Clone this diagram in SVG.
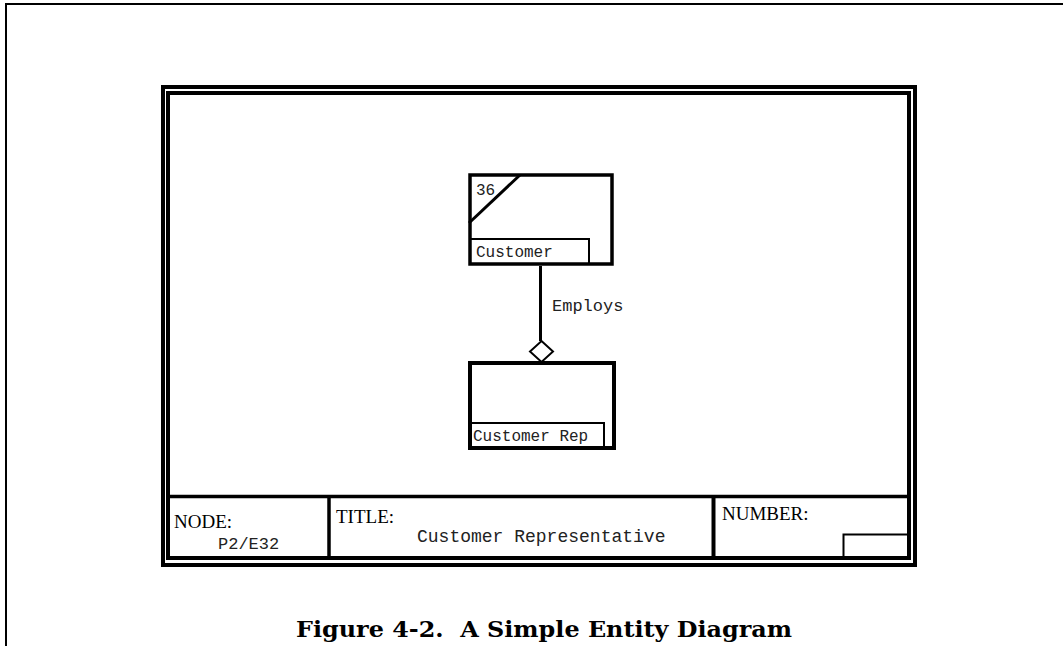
<svg xmlns="http://www.w3.org/2000/svg" width="1063" height="646" viewBox="0 0 1063 646">
<style>
.ln{fill:none;stroke:#000}
.mono{font-family:"Liberation Mono","Courier New",monospace;fill:#222}
.serif{font-family:"Liberation Serif","Times New Roman",serif;fill:#000;font-size:19px}
.cap{font-family:"DejaVu Serif","Liberation Serif",serif;font-weight:bold;font-size:23px;fill:#000;white-space:pre}
</style>
<rect width="1063" height="646" fill="#fff"/>
<g id="page">
<path class="ln" d="M6,646 V4 H1063" stroke-width="2"/>
<rect class="ln" x="163" y="87" width="752" height="478" stroke-width="4"/>
<rect class="ln" x="168" y="93" width="741" height="465" stroke-width="4"/>
</g>
<g id="title-block">
<line class="ln" x1="170" y1="496.5" x2="907" y2="496.5" stroke-width="3.5"/>
<line class="ln" x1="329" y1="497" x2="329" y2="557" stroke-width="3.5"/>
<line class="ln" x1="713.5" y1="497" x2="713.5" y2="557" stroke-width="4"/>
<path class="ln" d="M843.5,557 V534.5 H907" stroke-width="2"/>
<text class="serif" x="174" y="528">NODE:</text>
<text class="mono" x="218" y="549" font-size="17">P2/E32</text>
<text class="serif" x="336" y="522.5">TITLE:</text>
<text class="mono" x="417" y="541.5" font-size="18">Customer Representative</text>
<text class="serif" x="722" y="520">NUMBER:</text>
</g>
<g id="connectors">
<line class="ln" x1="540.5" y1="266" x2="540.5" y2="341" stroke-width="3"/>
<polygon points="541.5,341 553,351.5 541.5,362 530,351.5" fill="#fff" stroke="#000" stroke-width="2"/>
<text class="mono" x="552" y="311" font-size="17">Employs</text>
</g>
<g id="customer">
<rect class="ln" x="470" y="175" width="142" height="89" stroke-width="3.5"/>
<line class="ln" x1="469" y1="223" x2="520" y2="175" stroke-width="3"/>
<path class="ln" d="M471,239 H589 V264" stroke-width="2"/>
<text class="mono" x="476" y="195" font-size="16">36</text>
<text class="mono" x="476" y="257" font-size="16">Customer</text>
</g>
<g id="customer-rep">
<rect class="ln" x="470" y="363" width="144" height="85" stroke-width="4"/>
<path class="ln" d="M471,423 H604 V448" stroke-width="2"/>
<text class="mono" x="473" y="441" font-size="16">Customer Rep</text>
</g>
<text class="cap" x="296" y="637" textLength="496" lengthAdjust="spacingAndGlyphs">Figure 4-2.  A Simple Entity Diagram</text>
</svg>
